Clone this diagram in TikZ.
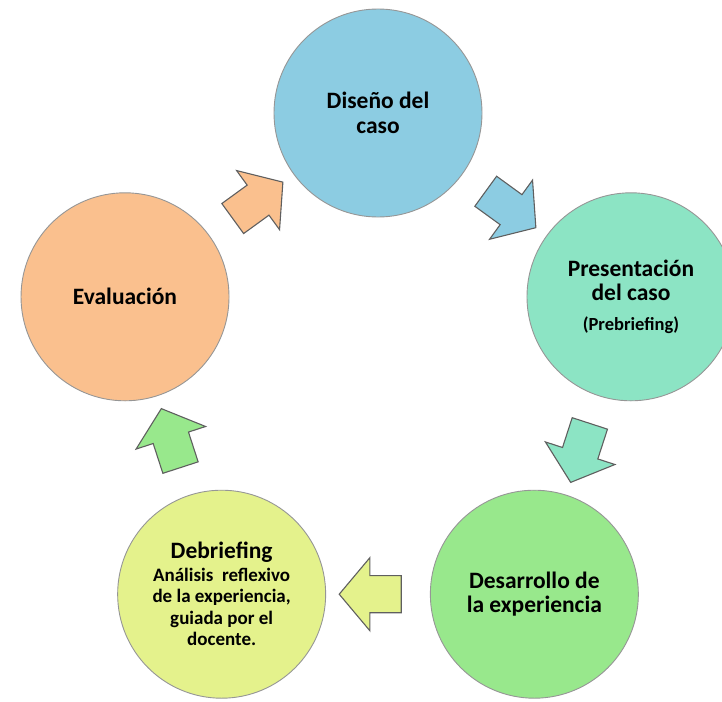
\documentclass[tikz,border=0pt]{standalone}
\usepackage{fontspec}
\setmainfont{Carlito}
\usetikzlibrary{shapes.arrows, positioning, calc}
\usepackage{xcolor}
\definecolor{disenoblue}{RGB}{140,204,226}
\definecolor{presmint}{RGB}{140,228,196}
\definecolor{desgreen}{RGB}{152,232,140}
\definecolor{debyellow}{RGB}{228,242,140}
\definecolor{evalpeach}{RGB}{250,192,142}
\definecolor{rimgray}{RGB}{150,150,150}
\definecolor{edgegray}{RGB}{95,95,95}

\begin{document}
\begin{tikzpicture}[
  x=1pt, y=1pt,
  phase/.style={circle, draw=rimgray, line width=0.9pt, minimum size=208pt, inner sep=0pt, align=center, font=\bfseries\fontsize{23.5}{24.5}\selectfont},
  flow/.style={single arrow, draw=edgegray, line width=1.1pt, minimum height=62pt, inner xsep=0pt, inner ysep=18pt, single arrow head extend=18pt, single arrow tip angle=100},
]
  \useasboundingbox (0,0) rectangle (722,-701);
  \coordinate (hub) at (378,-379);

  % Cycle phases
  \node[phase, fill=disenoblue] (diseno) at ($(hub)+(90:266)$) {Diseño del\\caso};
  \node[phase, fill=presmint] (presentacion) at ($(hub)+(18:266)$) {Presentación\\del caso\\[5pt]{\fontsize{18.5}{20}\selectfont (Prebriefing)}};
  \node[phase, fill=desgreen] (desarrollo) at ($(hub)+(-54:266)$) {Desarrollo de\\la experiencia};
  \node[phase, fill=debyellow] (debriefing) at ($(hub)+(-126:266)$) {Debriefing\\[-2pt]{\fontsize{19}{20}\selectfont Análisis\ \ reflexivo}\\[-3pt]{\fontsize{19}{20}\selectfont de la experiencia,}\\[-3pt]{\fontsize{19}{20}\selectfont guiada por el}\\[-3pt]{\fontsize{19}{20}\selectfont docente.}};
  \node[phase, fill=evalpeach] (evaluacion) at ($(hub)+(162:266)$) {Evaluación};

  % Block arrows between phases
  \node[flow, fill=disenoblue, rotate=-36] (a1) at ($(diseno)!0.5!(presentacion)$) {};
  \node[flow, fill=presmint, rotate=-108] (a2) at ($(presentacion)!0.5!(desarrollo)$) {};
  \node[flow, fill=debyellow, rotate=180] (a3) at ($(desarrollo)!0.5!(debriefing)$) {};
  \node[flow, fill=desgreen, rotate=108] (a4) at ($(debriefing)!0.5!(evaluacion)$) {};
  \node[flow, fill=evalpeach, rotate=36] (a5) at ($(evaluacion)!0.5!(diseno)$) {};
\end{tikzpicture}
\end{document}
